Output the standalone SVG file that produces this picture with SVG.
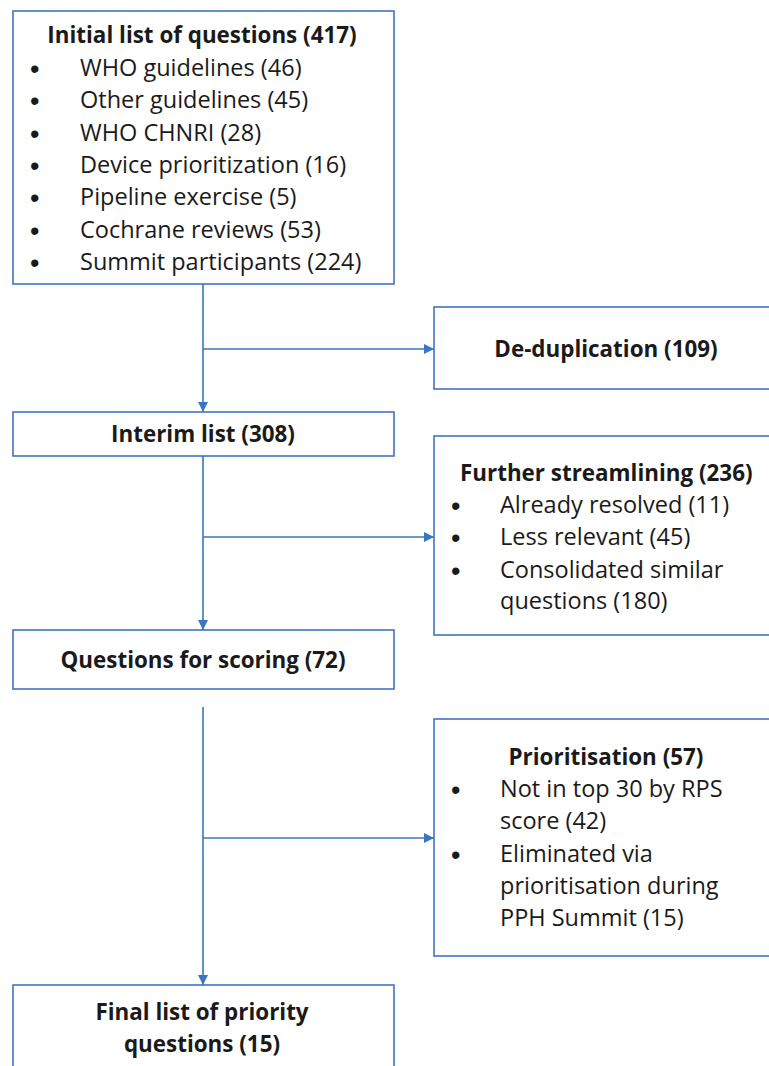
<svg xmlns="http://www.w3.org/2000/svg" width="769" height="1066" viewBox="0 0 769 1066">
<style>
.box{fill:#ffffff;stroke:#4472C4;stroke-width:1.6}
.t{font-family:"Open Sans","Noto Sans","Liberation Sans",sans-serif;font-size:23.5px;fill:#1a1a1a}
.b{font-weight:bold;font-size:22.4px}
.c{text-anchor:middle}
.bu{font-family:"Liberation Sans",Arial,sans-serif;font-size:27px;fill:#1a1a1a}
.ln{fill:none;stroke:#3A75C3;stroke-width:1.6}
</style>
<defs>
<marker id="ah" markerWidth="10" markerHeight="10" refX="10" refY="5" orient="auto" markerUnits="userSpaceOnUse" viewBox="0 0 10 10">
<path d="M0,0 L10,5 L0,10 z" fill="#3A75C3"/>
</marker>
</defs>
<rect width="769" height="1066" fill="#ffffff"/>
<g id="connectors">
<line class="ln" x1="203" y1="284" x2="203" y2="412" marker-end="url(#ah)"/>
<line class="ln" x1="203" y1="349" x2="434" y2="349" marker-end="url(#ah)"/>
<line class="ln" x1="203" y1="456" x2="203" y2="630" marker-end="url(#ah)"/>
<line class="ln" x1="203" y1="537" x2="434" y2="537" marker-end="url(#ah)"/>
<line class="ln" x1="203" y1="707" x2="203" y2="985" marker-end="url(#ah)"/>
<line class="ln" x1="203" y1="838" x2="434" y2="838" marker-end="url(#ah)"/>
</g>
<g id="initial">
<rect class="box" x="13" y="11" width="381" height="273"/>
<text class="t b c" x="202" y="43">Initial list of questions (417)</text>
<g class="bu">
<text x="30" y="78">•</text>
<text x="30" y="110">•</text>
<text x="30" y="143">•</text>
<text x="30" y="175">•</text>
<text x="30" y="207">•</text>
<text x="30" y="240">•</text>
<text x="30" y="272">•</text>
</g>
<g class="t">
<text x="80" y="76">WHO guidelines (46)</text>
<text x="80" y="108">Other guidelines (45)</text>
<text x="80" y="141">WHO CHNRI (28)</text>
<text x="80" y="173">Device prioritization (16)</text>
<text x="80" y="205">Pipeline exercise (5)</text>
<text x="80" y="238">Cochrane reviews (53)</text>
<text x="80" y="270">Summit participants (224)</text>
</g>
</g>
<g id="dedup">
<rect class="box" x="434" y="307" width="345" height="82"/>
<text class="t b c" x="606" y="357">De-duplication (109)</text>
</g>
<g id="interim">
<rect class="box" x="13" y="412" width="381" height="44"/>
<text class="t b c" x="203" y="442">Interim list (308)</text>
</g>
<g id="streamlining">
<rect class="box" x="434" y="436" width="345" height="199"/>
<text class="t b" x="460" y="481">Further streamlining (236)</text>
<g class="bu">
<text x="451" y="515">•</text>
<text x="451" y="547">•</text>
<text x="451" y="580">•</text>
</g>
<g class="t">
<text x="500" y="513">Already resolved (11)</text>
<text x="500" y="545">Less relevant (45)</text>
<text x="500" y="578">Consolidated similar</text>
<text x="500" y="609">questions (180)</text>
</g>
</g>
<g id="scoring">
<rect class="box" x="13" y="630" width="381" height="59"/>
<text class="t b c" x="203" y="668">Questions for scoring (72)</text>
</g>
<g id="prioritisation">
<rect class="box" x="434" y="719" width="345" height="237"/>
<text class="t b c" x="606" y="765">Prioritisation (57)</text>
<g class="bu">
<text x="451" y="799">•</text>
<text x="451" y="864">•</text>
</g>
<g class="t">
<text x="500" y="797">Not in top 30 by RPS</text>
<text x="500" y="829">score (42)</text>
<text x="500" y="862">Eliminated via</text>
<text x="500" y="894">prioritisation during</text>
<text x="500" y="926">PPH Summit (15)</text>
</g>
</g>
<g id="final">
<rect class="box" x="13" y="985" width="381" height="95"/>
<text class="t b c" x="202" y="1020">Final list of priority</text>
<text class="t b c" x="202" y="1052">questions (15)</text>
</g>
</svg>
